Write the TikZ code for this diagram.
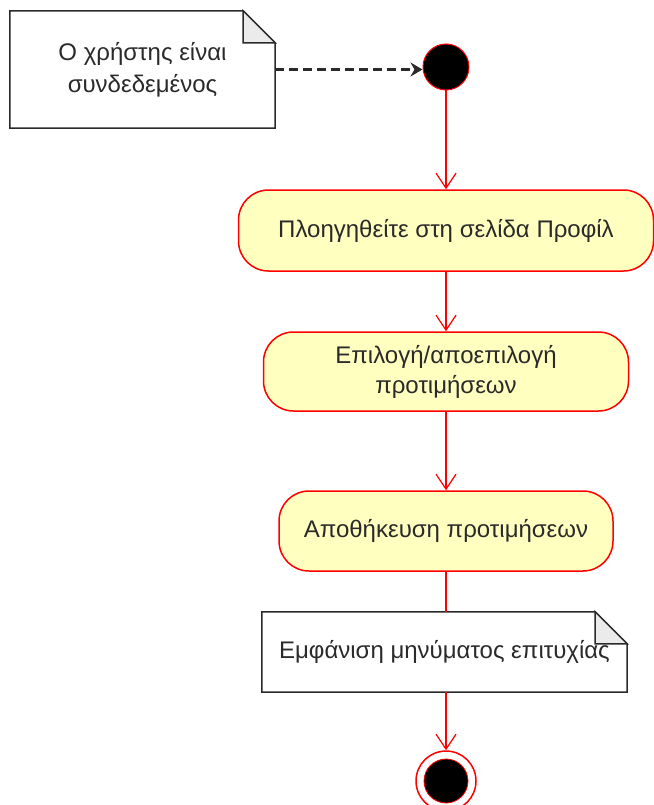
\documentclass[tikz,border=0pt]{standalone}
\usepackage{fontspec}
\setmainfont{Liberation Sans}
\usetikzlibrary{arrows.meta,calc}
\definecolor{actfill}{HTML}{FFFFC0}
\definecolor{actline}{HTML}{FF0000}
\definecolor{ink}{HTML}{2A2A2A}
\definecolor{foldgray}{HTML}{EBEBEB}
\begin{document}
\begin{tikzpicture}[x=1pt,y=-1pt,
  action/.style={draw=actline, fill=actfill, line width=1.5pt, rounded corners=30pt,
    text=ink, font=\fontsize{24}{30}\selectfont, align=center, inner sep=0pt},
  notebox/.style={inner sep=0pt, text=ink, align=center, font=\fontsize{24}{32}\selectfont},
  noteline/.style={draw=ink, line width=1.5pt, line join=miter},
  flow/.style={draw=actline, line width=1.2pt,
    -{Straight Barb[length=15pt,width=20pt,line width=1.2pt]}},
  plain/.style={draw=actline, line width=1.2pt},
  anchorlink/.style={draw=ink, line width=2.4pt, dash pattern=on 9pt off 5pt,
    -{Stealth[length=12pt,width=14pt,inset=4pt]}},
]
\useasboundingbox (0,0) rectangle (653,805);

% notes (outline drawn below)
\node[notebox, minimum width=265pt, minimum height=117pt] (n1) at (142.5,69.5) {};
\node[notebox, minimum width=365pt, minimum height=80pt] (n2) at (444.5,652) {};

\foreach \n in {n1, n2}{
  \draw[noteline, fill=white] (\n.north west) -- ($(\n.north east)+(-32,0)$)
    -- ($(\n.north east)+(0,32)$) -- (\n.south east) -- (\n.south west) -- cycle;
  \draw[noteline, fill=foldgray] ($(\n.north east)+(-32,0)$) -- ($(\n.north east)+(-32,32)$)
    -- ($(\n.north east)+(0,32)$) -- cycle;
}
\node[notebox] at (n1) {Ο χρήστης είναι\\συνδεδεμένος};
\node[notebox] at (n2) {Εμφάνιση μηνύματος επιτυχίας};

% start and end states
\node[circle, fill=black, draw=actline, line width=1pt, minimum size=46pt, inner sep=0pt]
  (start) at (446,67) {};
\node[circle, draw=actline, line width=1.5pt, minimum size=60pt, inner sep=0pt]
  (end) at (446,781) {};
\fill[black, draw=actline, line width=0.8pt] (end) circle (22pt);

% actions
\node[action, minimum width=415pt, minimum height=81pt] (a1) at (446,230.5)
  {Πλοηγηθείτε στη σελίδα Προφίλ};
\node[action, minimum width=365pt, minimum height=79pt] (a2) at (446,371.5)
  {Επιλογή/αποεπιλογή\\προτιμήσεων};
\node[action, minimum width=334pt, minimum height=80pt] (a3) at (446,531)
  {Αποθήκευση προτιμήσεων};

% connectors
\draw[anchorlink] (n1.east) -- (start.west |- n1.east);
\draw[flow] (start) -- (a1);
\draw[flow] (a1) -- (a2);
\draw[flow] (a2) -- (a3);
\draw[plain] (a3.south) -- (a3.south |- n2.north);
\draw[flow] (n2.south -| end.north) -- (end.north);
\end{tikzpicture}
\end{document}
